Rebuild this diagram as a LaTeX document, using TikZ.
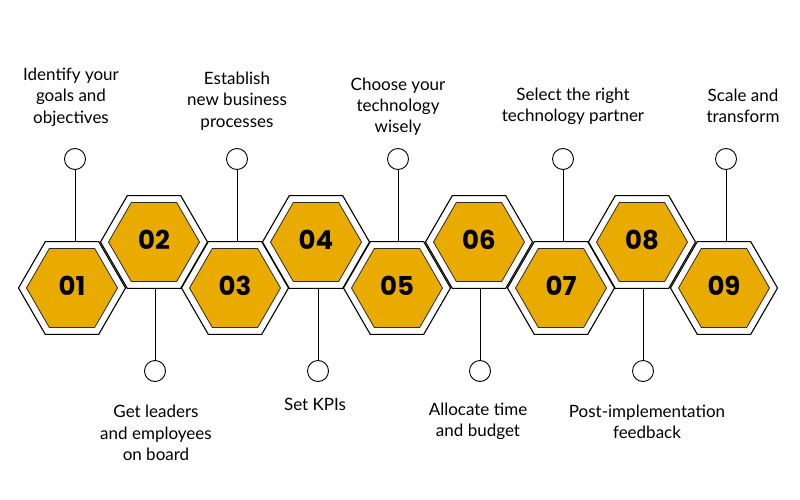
\documentclass[tikz,border=0pt]{standalone}
\usepackage{fontspec}
\setmainfont{Lato}
\newfontfamily\numfont{Poppins}
\usetikzlibrary{shapes.geometric}
\definecolor{gold}{HTML}{E9AB00}
\definecolor{edge}{HTML}{2A2A2A}
\tikzset{
  hexout/.style={regular polygon, regular polygon sides=6, minimum size=107pt, inner sep=0pt, draw=black, line width=1.1pt, fill=white},
  hexin/.style={regular polygon, regular polygon sides=6, minimum size=91pt, inner sep=0pt, draw=edge, line width=0.8pt, fill=gold},
  num/.style={inner sep=0pt, font=\numfont\bfseries\fontsize{26}{26}\selectfont},
  dot/.style={circle, draw=black, line width=0.9pt, fill=white, minimum size=21pt, inner sep=0pt},
  lbl/.style={align=center, font=\fontsize{17}{21.3}\selectfont, text=black},
  link/.style={draw=black, line width=0.9pt}
}
\begin{document}
\begin{tikzpicture}[x=1pt,y=-1pt]
\useasboundingbox (0,0) rectangle (800,500);
\fill[white] (0,0) rectangle (800,500);
% hexagons
\foreach \i/\x/\y in {1/72/288,2/154/242,3/235/288,4/316/242,5/397/288,6/479/242,7/561/288,8/642/242,9/724/288}{
  \node[hexout] (h\i) at (\x,\y) {};
  \node[hexin] (n\i) at (\x,\y) {};
  \node[num] (d\i) at (\x,\y-2) {0\i};
}
% dots
\foreach \i/\x in {1/75,3/237,5/398,7/563,9/726}{
  \node[dot] (c\i) at (\x,159) {};
  \draw[link] (c\i.south) -- (c\i.south |- h\i.north);
}
\foreach \i/\x in {2/155,4/318,6/480,8/643}{
  \node[dot] (c\i) at (\x,371) {};
  \draw[link] (c\i.north) -- (c\i.north |- h\i.south);
}
% labels
\node[lbl] (t1) at (71,97) {Identify your\\goals and\\objectives};
\node[lbl] (t3) at (237,101) {Establish\\new business\\processes};
\node[lbl] (t5) at (398,106.5) {Choose your\\technology\\wisely};
\node[lbl] (t7) at (573,106) {Select the right\\technology partner};
\node[lbl] (t9) at (743,106) {Scale and\\transform};
\node[lbl] (t2) at (156,433) {Get leaders\\and employees\\on board};
\node[lbl] (t4) at (315,404) {Set KPIs};
\node[lbl] (t6) at (478,421.5) {Allocate time\\and budget};
\node[lbl] (t8) at (647,421.5) {Post-implementation\\feedback};
\end{tikzpicture}
\end{document}
